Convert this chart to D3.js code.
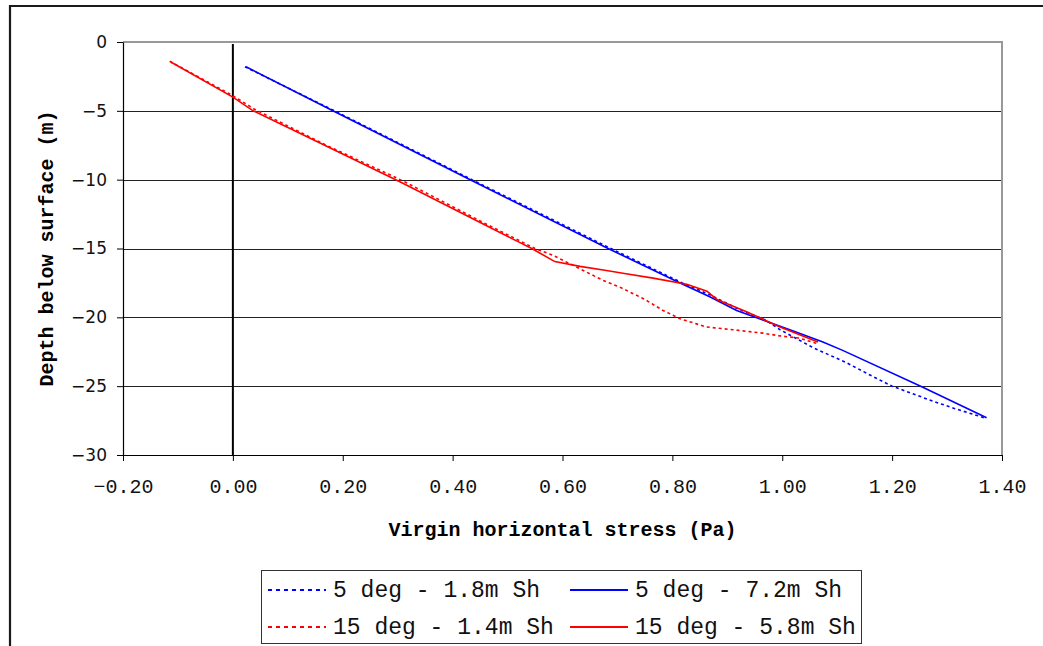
<!DOCTYPE html>
<html>
<head>
<meta charset="utf-8">
<script src="https://cdn.jsdelivr.net/npm/d3@7"></script>
<style>
  html, body { margin: 0; padding: 0; background: #fff; }
  svg { display: block; }
</style>
</head>
<body>
<svg id="chart" width="1043" height="646"></svg>
<script>
// ---- data ----
const xTicks = [-0.20, 0.00, 0.20, 0.40, 0.60, 0.80, 1.00, 1.20, 1.40];
const yTicks = [0, -5, -10, -15, -20, -25, -30];

const seriesNames = ["5 deg - 1.8m Sh", "5 deg - 7.2m Sh", "15 deg - 1.4m Sh", "15 deg - 5.8m Sh"];

// 5 deg - 1.8m Sh (blue dashed)
const blueDashStress = [0.022, 0.185, 0.435, 0.688, 0.818, 0.870, 0.920, 0.970, 0.996, 1.056, 1.117, 1.165, 1.200, 1.275, 1.312, 1.368];
const blueDashDepth  = [-1.8, -5.0, -10.0, -15.0, -17.5, -18.4, -19.4, -20.2, -20.9, -22.2, -23.3, -24.3, -25.0, -26.1, -26.6, -27.3];

// 5 deg - 7.2m Sh (blue solid)
const blueSolidStress = [0.024, 0.182, 0.432, 0.683, 0.814, 0.868, 0.917, 0.972, 1.020, 1.074, 1.110, 1.252, 1.372];
const blueSolidDepth  = [-1.8, -5.0, -10.0, -15.0, -17.5, -18.5, -19.5, -20.3, -21.0, -21.8, -22.4, -25.0, -27.3];

// 15 deg - 1.4m Sh (red dashed)
const redDashStress = [-0.115, 0.000, 0.040, 0.170, 0.310, 0.455, 0.550, 0.583, 0.628, 0.673, 0.704, 0.750, 0.783, 0.814, 0.862, 0.910, 0.965, 0.996, 1.030, 1.063];
const redDashDepth  = [-1.4, -3.9, -4.9, -7.5, -10.1, -13.1, -15.0, -15.5, -16.4, -17.3, -17.8, -18.7, -19.5, -20.1, -20.7, -20.9, -21.15, -21.35, -21.5, -21.9];

// 15 deg - 5.8m Sh (red solid)
const redSolidStress = [-0.113, 0.000, 0.037, 0.167, 0.304, 0.452, 0.519, 0.544, 0.586, 0.632, 0.680, 0.710, 0.765, 0.826, 0.863, 0.881, 0.935, 0.996, 1.065];
const redSolidDepth  = [-1.45, -4.0, -5.0, -7.5, -10.15, -13.15, -14.5, -15.0, -15.95, -16.3, -16.6, -16.8, -17.15, -17.6, -18.1, -18.7, -19.6, -20.7, -21.8];

const seriesColors = ["#0000ff", "#0000ff", "#ff0000", "#ff0000"];
const seriesDashed = [true, false, true, false];

// ---- build ----
(function () {
const series = [
  { name: seriesNames[0], xs: blueDashStress, ys: blueDashDepth },
  { name: seriesNames[1], xs: blueSolidStress, ys: blueSolidDepth },
  { name: seriesNames[2], xs: redDashStress, ys: redDashDepth },
  { name: seriesNames[3], xs: redSolidStress, ys: redSolidDepth }
].map((s, i) => ({ ...s, color: seriesColors[i], dashed: seriesDashed[i],
  pts: s.xs.map((v, j) => [v, s.ys[j]]) }));

const svg = d3.select("#chart");
const pL = 123, pR = 1002, pT = 42, pB = 455;

const x = d3.scaleLinear().domain([-0.2, 1.4]).range([pL, pR]);
const y = d3.scaleLinear().domain([0, -30]).range([pT, pB]);

// outer frame
svg.append("path")
  .attr("d", "M10,650 V6 H1045")
  .attr("fill", "none").attr("stroke", "#1a1a1a").attr("stroke-width", 2.2);

// horizontal gridlines
svg.append("g").selectAll("line")
  .data(yTicks.filter(d => d !== 0 && d !== -30))
  .join("line")
  .attr("x1", pL).attr("x2", pR)
  .attr("y1", d => Math.round(y(d)) + 0.5).attr("y2", d => Math.round(y(d)) + 0.5)
  .attr("stroke", "#222").attr("stroke-width", 1);

// plot area border top/right (grey)
svg.append("path")
  .attr("d", `M${pL},${pT} H${pR} V${pB}`)
  .attr("fill", "none").attr("stroke", "#999").attr("stroke-width", 2);

// zero vertical line
svg.append("line")
  .attr("x1", x(0)).attr("x2", x(0))
  .attr("y1", pT + 2).attr("y2", pB)
  .attr("stroke", "#000").attr("stroke-width", 2);

// axes
const fmtX = d3.format(".2f");
const xAxis = svg.append("g")
  .attr("transform", `translate(0,${pB})`)
  .call(d3.axisBottom(x).tickValues(xTicks).tickFormat(fmtX).tickSize(6).tickSizeOuter(0));
xAxis.select(".domain").attr("stroke", "#000").attr("stroke-width", 1.2);
xAxis.selectAll(".tick line").attr("stroke", "#000");
xAxis.selectAll("text")
  .attr("font-family", "'Liberation Mono', 'Courier New', monospace")
  .attr("font-size", 20).attr("fill", "#111")
  .attr("y", 38).attr("dy", 0);

const yAxis = svg.append("g")
  .attr("transform", `translate(${pL},0)`)
  .call(d3.axisLeft(y).tickValues(yTicks).tickFormat(d3.format("d")).tickSize(6).tickSizeOuter(0));
yAxis.select(".domain").attr("stroke", "#000").attr("stroke-width", 1.2);
yAxis.selectAll(".tick line").attr("stroke", "#000");
yAxis.selectAll("text")
  .attr("font-family", "'DejaVu Sans', sans-serif")
  .attr("font-size", 17).attr("fill", "#111")
  .attr("x", -16);

// axis titles
svg.append("text")
  .attr("x", (pL + pR) / 2).attr("y", 536)
  .attr("text-anchor", "middle")
  .attr("font-family", "'Liberation Mono', 'Courier New', monospace")
  .attr("font-weight", "bold").attr("font-size", 20).attr("fill", "#000")
  .text("Virgin horizontal stress (Pa)");

svg.append("text")
  .attr("transform", `translate(53,${(pT + pB) / 2}) rotate(-90)`)
  .attr("text-anchor", "middle")
  .attr("font-family", "'Liberation Mono', 'Courier New', monospace")
  .attr("font-weight", "bold").attr("font-size", 20).attr("fill", "#000")
  .text("Depth below surface (m)");

// lines
const line = d3.line().x(d => x(d[0])).y(d => y(d[1]));
svg.append("g").selectAll("path")
  .data(series)
  .join("path")
  .attr("d", d => line(d.pts))
  .attr("fill", "none")
  .attr("stroke", d => d.color)
  .attr("stroke-width", 1.6)
  .attr("stroke-dasharray", d => d.dashed ? "3,3" : null);

// legend
const lg = svg.append("g");
lg.append("rect")
  .attr("x", 261.5).attr("y", 570.5).attr("width", 600).attr("height", 73)
  .attr("fill", "#fff").attr("stroke", "#333").attr("stroke-width", 1);
const legPos = [[268, 590], [570, 590], [268, 627], [570, 627]];
series.forEach((s, i) => {
  const [lx, ly] = legPos[i];
  lg.append("line")
    .attr("x1", lx).attr("x2", lx + 58).attr("y1", ly).attr("y2", ly)
    .attr("stroke", s.color).attr("stroke-width", 2)
    .attr("stroke-dasharray", s.dashed ? "4,4" : null);
  lg.append("text")
    .attr("x", lx + 65).attr("y", ly + 7)
    .attr("font-family", "'Liberation Mono', 'Courier New', monospace")
    .attr("font-size", 23).attr("fill", "#111")
    .text(s.name);
});
})();
</script>
</body>
</html>
